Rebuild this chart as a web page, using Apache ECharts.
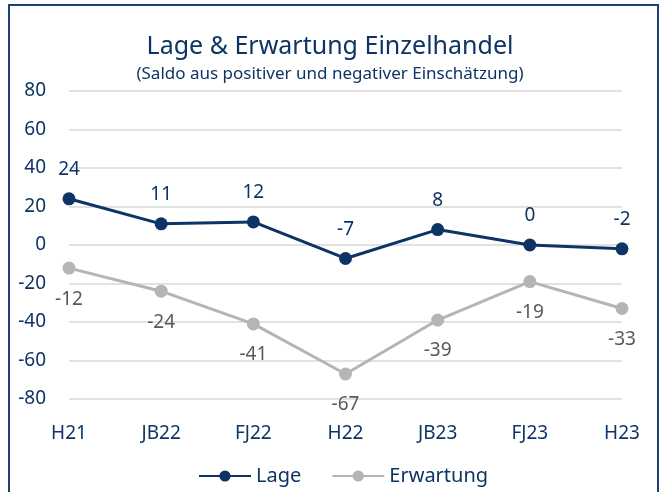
<!DOCTYPE html>
<html><head><meta charset="utf-8">
<script src="https://cdn.jsdelivr.net/npm/echarts@6/dist/echarts.min.js"></script>
<style>html,body{margin:0;padding:0;background:#fff}#c{width:660px;height:492px}</style>
</head><body><div id="c"></div>
<script>
const categories = ['H21','JB22','FJ22','H22','JB23','FJ23','H23'];
const lage = [24, 11, 12, -7, 8, 0, -2];
const erwartung = [-12, -24, -41, -67, -39, -19, -33];
const yTicks = {min: -80, max: 80, interval: 20};

const navy = '#0E3465';
const gray = '#B5B5B5';
const font = '"Noto Sans", sans-serif';
const chart = echarts.init(document.getElementById('c'));
chart.setOption({
  animation: false,
  title: {
    text: 'Lage & Erwartung Einzelhandel',
    subtext: '(Saldo aus positiver und negativer Einschätzung)',
    left: 'center', top: 29, itemGap: 7,
    textStyle: {fontFamily: font, fontSize: 25, fontWeight: 'normal', color: navy},
    subtextStyle: {fontFamily: font, fontSize: 17, color: navy}
  },
  graphic: [{type: 'rect', shape: {x: 9, y: 5, width: 649, height: 500}, style: {fill: 'none', stroke: '#1B4276', lineWidth: 2}}],
  legend: {
    bottom: 1, left: 193, itemWidth: 52, itemHeight: 14, itemGap: 30,
    textStyle: {fontFamily: font, fontSize: 20, color: navy},
    data: ['Lage', 'Erwartung']
  },
  grid: {left: 69, right: 38, top: 91, bottom: 93},
  xAxis: {
    type: 'category', data: categories, boundaryGap: false,
    axisLine: {show: false, onZero: false}, axisTick: {show: false},
    axisLabel: {fontFamily: font, fontSize: 19, color: navy, margin: 25}
  },
  yAxis: {
    type: 'value', min: yTicks.min, max: yTicks.max, interval: yTicks.interval,
    axisLine: {show: false}, axisTick: {show: false},
    splitLine: {lineStyle: {color: '#D9D9D9', width: 1.5}},
    axisLabel: {fontFamily: font, fontSize: 19, color: navy, margin: 23}
  },
  series: [
    {name: 'Lage', type: 'line', data: lage, symbol: 'circle', symbolSize: 13,
     lineStyle: {color: navy, width: 3}, itemStyle: {color: navy},
     label: {show: true, position: 'top', distance: 13, fontFamily: font, fontSize: 19, color: navy}},
    {name: 'Erwartung', type: 'line', data: erwartung, symbol: 'circle', symbolSize: 13,
     lineStyle: {color: gray, width: 3}, itemStyle: {color: gray},
     label: {show: true, position: 'bottom', distance: 15, fontFamily: font, fontSize: 19, color: '#595959'}}
  ]
});
</script></body></html>
